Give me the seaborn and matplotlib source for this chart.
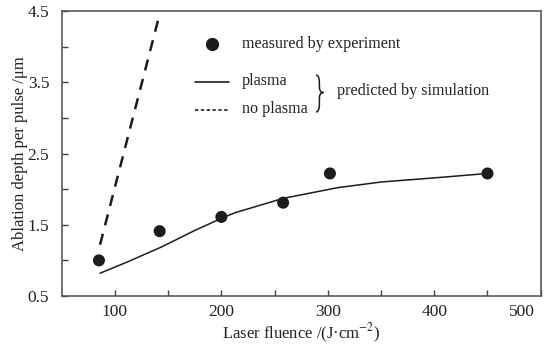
import numpy as np
import pandas as pd
import matplotlib
matplotlib.use("Agg")
import matplotlib.pyplot as plt
from matplotlib.ticker import FixedLocator
from matplotlib.path import Path
from matplotlib.patches import PathPatch
from matplotlib.transforms import ScaledTranslation
import seaborn as sns

# Measured ablation depth per pulse
fluence_meas = [85, 142, 200, 258, 302, 450]
depth_meas = [1.00, 1.41, 1.61, 1.81, 2.22, 2.22]

# Simulation with plasma shielding
fluence_plasma = [86, 112, 144, 175, 200, 213, 258, 309, 350, 406, 450]
depth_plasma = [0.82, 0.98, 1.19, 1.42, 1.59, 1.67, 1.87, 2.02, 2.10, 2.165, 2.22]

# Simulation without plasma shielding
fluence_noplasma = [86, 140.5]
depth_noplasma = [1.22, 4.37]

x_major = [100, 200, 300, 400, 500]
x_minor = [150, 250, 350, 450]
y_major = [0.5, 1.5, 2.5, 3.5, 4.5]
y_minor = [1.0, 2.0, 3.0, 4.0]

sns.set_style("ticks")
plt.rcParams["font.family"] = ["Liberation Serif", "DejaVu Serif"]
plt.rcParams["mathtext.fontset"] = "stix"

fig = plt.figure(figsize=(5.52, 3.44), dpi=100)
ax = fig.add_axes([0.1118, 0.1395, 0.8677, 0.8285])

ink = "#1c1c1c"
txt = "#222222"
df_meas = pd.DataFrame({"F": fluence_meas, "d": depth_meas})
df_pl = pd.DataFrame({"F": fluence_plasma, "d": depth_plasma})
df_np = pd.DataFrame({"F": fluence_noplasma, "d": depth_noplasma})

sns.lineplot(data=df_pl, x="F", y="d", ax=ax, color=ink, lw=1.1, sort=True)
sns.lineplot(data=df_np, x="F", y="d", ax=ax, color=ink, lw=1.8,
             linestyle=(0, (4.5, 3.5)))
sns.scatterplot(data=df_meas, x="F", y="d", ax=ax, color=ink, s=75,
                edgecolor="none", zorder=3)

ax.set_xlim(50, 500)
ax.set_ylim(0.5, 4.5)
ax.xaxis.set_major_locator(FixedLocator(x_major))
ax.xaxis.set_minor_locator(FixedLocator(x_minor))
ax.yaxis.set_major_locator(FixedLocator(y_major))
ax.yaxis.set_minor_locator(FixedLocator(y_minor))
ax.set_yticklabels([f"{v:.1f}" for v in y_major])
ax.tick_params(which="both", direction="in", length=4, width=1.0,
               color="#404040", labelsize=12.5, labelcolor=txt,
               top=False, right=False)
ax.tick_params(axis="x", pad=6)
ax.tick_params(axis="y", pad=9)
for s in ax.spines.values():
    s.set_visible(True)
    s.set_color("#5a5a5a")
    s.set_linewidth(1.2)

# the last x label sits inside the frame edge
last = ax.get_xticklabels()[-1]
last.set_transform(last.get_transform()
                   + ScaledTranslation(-0.19, 0, fig.dpi_scale_trans))

ax.set_xlabel("Laser fluence /(J·cm$^{-2}$)", fontsize=12, color=txt,
              labelpad=1)
ax.set_ylabel("Ablation depth per pulse /μm", fontsize=12, color=txt,
              labelpad=0)

# Hand-built key
T = ax.transAxes
ax.plot([0.3144], [0.883], "o", ms=8.5, color=ink, transform=T, clip_on=False)
ax.text(0.3758, 0.883, "measured by experiment", transform=T, fontsize=11.6,
        va="center", ha="left", color=txt)
ax.plot([0.2787, 0.3499], [0.7498, 0.7498], color=ink, lw=1.2, transform=T)
ax.text(0.3758, 0.755, "plasma", transform=T, fontsize=11.6, va="center",
        ha="left", color=txt)
ax.plot([0.2787, 0.3499], [0.6526, 0.6526], color=ink, lw=1.2,
        linestyle=(0, (2, 1.5)), transform=T)
ax.text(0.3758, 0.656, "no plasma", transform=T, fontsize=11.6, va="center",
        ha="left", color=txt)

# curly brace grouping the two simulation entries
x0, xm, xt = 0.531, 0.538, 0.5465
yt, ym, yb = 0.7754, 0.714, 0.6456
verts = [(x0, yt), (xm, yt), (xm, yt - 0.03),
         (xm, ym + 0.02), (xm, ym), (xt, ym),
         (xm, ym), (xm, ym - 0.02),
         (xm, yb + 0.03), (xm, yb), (x0, yb)]
codes = [Path.MOVETO, Path.CURVE3, Path.CURVE3,
         Path.LINETO, Path.CURVE3, Path.CURVE3,
         Path.CURVE3, Path.CURVE3,
         Path.LINETO, Path.CURVE3, Path.CURVE3]
ax.add_patch(PathPatch(Path(verts, codes), transform=T, fill=False,
                       edgecolor=ink, lw=1.1))
ax.text(0.574, 0.7204, "predicted by simulation", transform=T, fontsize=11.6,
        va="center", ha="left", color=txt)

fig.savefig("out.png", dpi=100)
